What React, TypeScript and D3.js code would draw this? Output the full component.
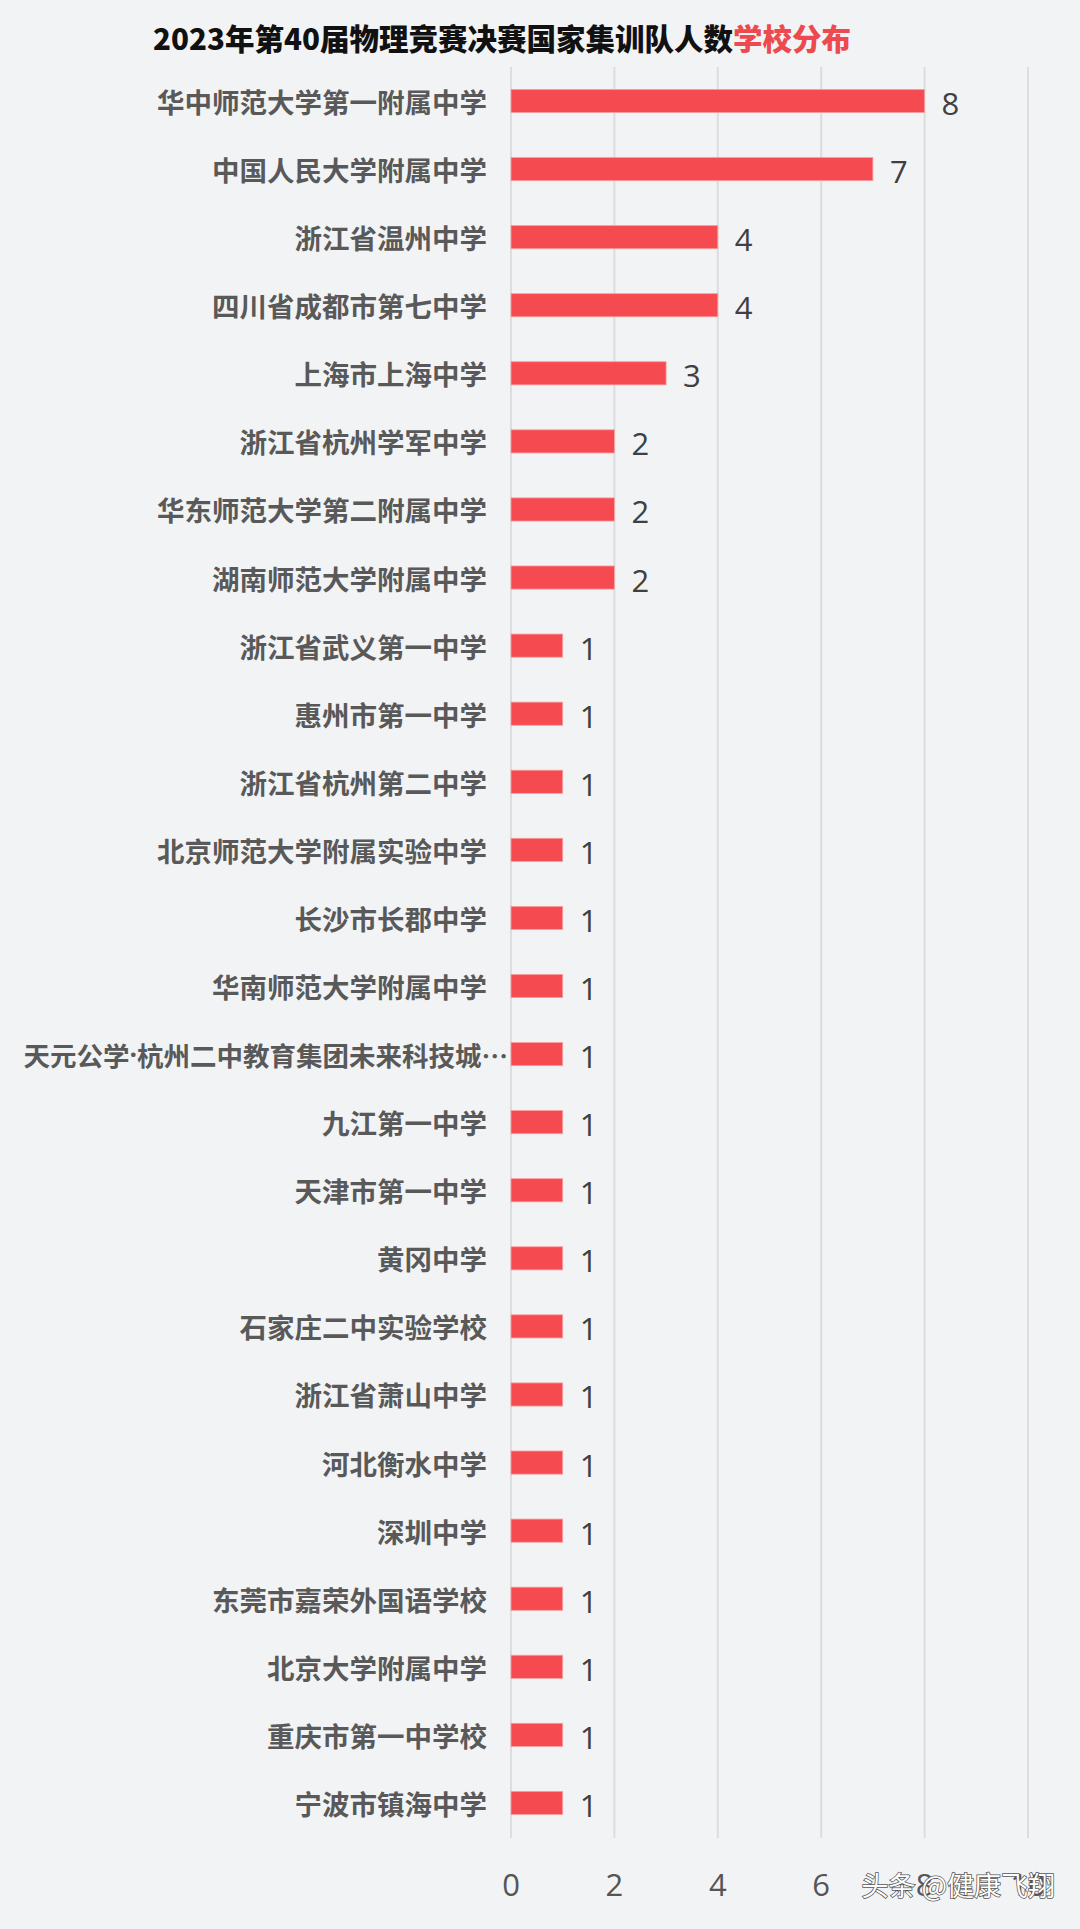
import React from "react";
import * as d3 from "d3";

const schools: string[] = [
  "华中师范大学第一附属中学",
  "中国人民大学附属中学",
  "浙江省温州中学",
  "四川省成都市第七中学",
  "上海市上海中学",
  "浙江省杭州学军中学",
  "华东师范大学第二附属中学",
  "湖南师范大学附属中学",
  "浙江省武义第一中学",
  "惠州市第一中学",
  "浙江省杭州第二中学",
  "北京师范大学附属实验中学",
  "长沙市长郡中学",
  "华南师范大学附属中学",
  "天元公学·杭州二中教育集团未来科技城…",
  "九江第一中学",
  "天津市第一中学",
  "黄冈中学",
  "石家庄二中实验学校",
  "浙江省萧山中学",
  "河北衡水中学",
  "深圳中学",
  "东莞市嘉荣外国语学校",
  "北京大学附属中学",
  "重庆市第一中学校",
  "宁波市镇海中学",
];

const counts: number[] = [8, 7, 4, 4, 3, 2, 2, 2, 1, 1, 1, 1, 1, 1, 1, 1, 1, 1, 1, 1, 1, 1, 1, 1, 1, 1];

const xTicks: number[] = [0, 2, 4, 6, 8, 10];

const titleMain = "2023年第40届物理竞赛决赛国家集训队人数";
const titleAccent = "学校分布";
const watermark = "头条 @健康飞翔";

const W = 1080;
const H = 1929;

const cjk = "'Noto Sans CJK SC', 'Noto Sans', sans-serif";
const num = "'Open Sans', 'Noto Sans', sans-serif";

function Label({ text }: { text: string }) {
  // render the narrow middle dot with a Latin font, like the reference
  const parts = text.split("·");
  return (
    <>
      {parts.map((p, i) => (
        <React.Fragment key={i}>
          {i > 0 && (
            <tspan fontFamily="'Open Sans', sans-serif" fontWeight={700}>
              ·
            </tspan>
          )}
          <tspan>{p}</tspan>
        </React.Fragment>
      ))}
    </>
  );
}

export default function App() {
  const x = d3.scaleLinear().domain([0, 10]).range([511, 1028]);
  const y = d3
    .scaleBand<string>()
    .domain(schools)
    .range([77.85, 1826.1])
    .paddingInner(0.66)
    .paddingOuter(0.17);

  const bw = y.bandwidth();

  return (
    <svg
      width={W}
      height={H}
      viewBox={`0 0 ${W} ${H}`}
      style={{ position: "absolute", left: 0, top: 0, display: "block" }}
    >
      <rect x={0} y={0} width={W} height={H} fill="#f2f3f5" />
      <text
        x={502}
        y={37}
        textAnchor="middle"
        dominantBaseline="central"
        fontFamily={cjk}
        fontSize={29.5}
        fontWeight={900}
        fill="#111"
      >
        {titleMain}
        <tspan fill="#ec4a4f">{titleAccent}</tspan>
      </text>

      {xTicks.map((t) => (
        <g key={t}>
          <line x1={x(t)} x2={x(t)} y1={67} y2={1838} stroke="#dcdde0" strokeWidth={2} />
          <text
            x={x(t)}
            y={1884}
            textAnchor="middle"
            dominantBaseline="central"
            fontFamily={num}
            fontSize={31}
            fill="#555"
          >
            {t}
          </text>
        </g>
      ))}

      {schools.map((s, i) => {
        const cy = (y(s) as number) + bw / 2;
        const long = s.includes("…");
        return (
          <g key={s}>
            <text
              x={long ? 508 : 487}
              y={cy}
              textAnchor="end"
              dominantBaseline="central"
              fontFamily={cjk}
              fontSize={long ? 26.5 : 27.5}
              fontWeight={700}
              fill="#595959"
            >
              <Label text={s} />
            </text>
            <rect
              x={x(0)}
              y={y(s) as number}
              width={x(counts[i]) - x(0)}
              height={bw}
              fill="#f54a50"
              stroke="#f7a0a2"
              strokeWidth={0.8}
            />
            <text
              x={x(counts[i]) + 17}
              y={cy + 2}
              textAnchor="start"
              dominantBaseline="central"
              fontFamily={num}
              fontSize={31}
              fill="#404040"
            >
              {counts[i]}
            </text>
          </g>
        );
      })}

      <text
        x={1055}
        y={1884}
        textAnchor="end"
        dominantBaseline="central"
        fontFamily={cjk}
        fontSize={27}
        fill="#ffffff"
        stroke="#555"
        strokeWidth={1.5}
        paintOrder="stroke"
      >
        {watermark}
      </text>
    </svg>
  );
}
